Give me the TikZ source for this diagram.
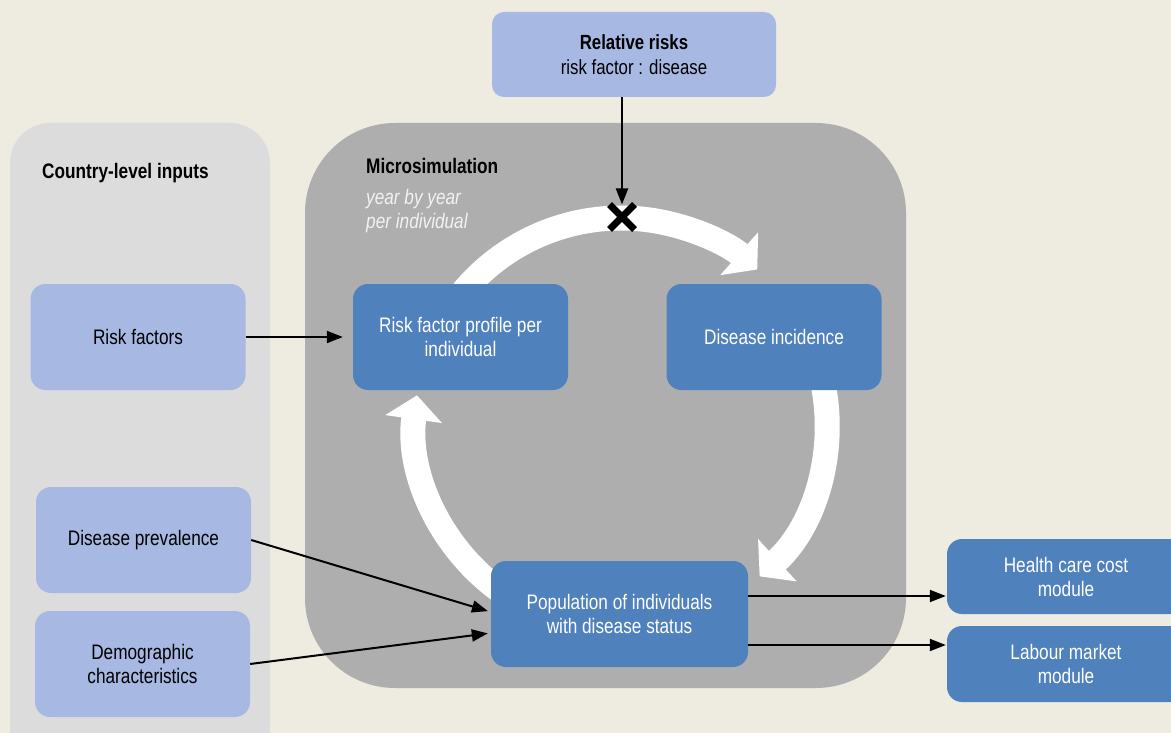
\documentclass[tikz,border=0pt]{standalone}
\usepackage{fontspec}
\setmainfont{Liberation Sans}[FakeStretch=0.82]
\usetikzlibrary{arrows.meta,shapes.misc}

\definecolor{bgbeige}{HTML}{EEEBE0}
\definecolor{ctrygrey}{HTML}{DCDCDC}
\definecolor{simgrey}{HTML}{AEAEAE}
\definecolor{lightblue}{HTML}{A7B8E2}
\definecolor{darkblue}{HTML}{4F81BD}

\begin{document}
\begin{tikzpicture}[x=1pt,y=-1pt,
    inbox/.style={fill=lightblue, rounded corners=15pt, align=center,
      minimum width=215pt, minimum height=106pt,
      font=\fontsize{21}{24}\selectfont},
    simbox/.style={fill=darkblue, text=white, rounded corners=15pt, align=center,
      minimum width=215pt, minimum height=106pt,
      font=\fontsize{21}{24}\selectfont},
    blkarrow/.style={-{Triangle[length=16pt,width=12pt]}, line width=2pt},
    cyclearrow/.style={white, line width=25pt, -{Triangle[length=24pt,width=56pt]}},
    head/.style={font=\fontsize{21}{24}\bfseries\selectfont, anchor=west, inner sep=0pt}]

    % background and panels
    \fill[bgbeige] (0,0) rectangle (1171,733);
    \clip (0,0) rectangle (1171,733);
    \fill[ctrygrey, rounded corners=40pt] (10,123) rectangle (270,770);
    \fill[simgrey, rounded corners=90pt] (305,123) rectangle (906,688);

    \node (Cty) at (42,173) [head] {Country-level inputs};
    \node (Mic) at (366,166) [head] {Microsimulation};
    \node (Yby) at (366,211) [anchor=west, align=left, inner sep=0pt, text=white!95!black,
      font=\fontsize{21}{24}\itshape\selectfont] {year by year\\per individual};

    % cycle
    \coordinate (cyc) at (621,424);
    \draw[cyclearrow] ([shift={(-140:206)}]cyc) arc[start angle=-140, end angle=-48.6, radius=206];
    \draw[cyclearrow] ([shift={(-15:206)}]cyc) arc[start angle=-15, end angle=47.7, radius=206];
    \draw[cyclearrow] ([shift={(-234:206)}]cyc) arc[start angle=-234, end angle=-172, radius=206];

    \node (Rel) at (634,54.5) [inbox, rounded corners=12pt, minimum width=284pt, minimum height=85pt,
      font=\fontsize{20.5}{25}\selectfont] {\textbf{Relative risks}\\risk factor : disease};
    \node (Rfa) at (138,337) [inbox] {Risk factors};
    \node (Prv) at (143.5,540) [inbox] {Disease prevalence};
    \node (Dem) at (142.5,664) [inbox] {Demographic\\characteristics};

    \node (Pro) at (460.5,337) [simbox] {Risk factor profile per\\individual};
    \node (Inc) at (774,337) [simbox] {Disease incidence};
    \node (Pop) at (619.5,614) [simbox, minimum width=257pt] {Population of individuals\\with disease status};
    \node (Hcc) at (1066,576.5) [simbox, minimum width=238pt, minimum height=75pt] {Health care cost\\module};
    \node (Lab) at (1066,664) [simbox, minimum width=238pt, minimum height=76pt] {Labour market\\module};

    \node (Crs) at (622,217) [draw, cross out, line width=7pt, minimum size=18pt, inner sep=0pt] {};

    \draw[blkarrow] (Crs |- Rel.south) -- (Crs.north);
    \draw[blkarrow, shorten >=10pt] (Rfa) -- (Pro);
    \draw[blkarrow, shorten >=3pt] (Prv.east) -- ([yshift=2pt]Pop.west);
    \draw[blkarrow, shorten >=3pt] (Dem.east) -- ([yshift=-19pt]Pop.west);
    \draw[blkarrow, shorten >=1pt] ([yshift=18pt]Pop.east) -- ([yshift=18pt]Pop.east -| Hcc.west);
    \draw[blkarrow, shorten >=1pt] ([yshift=-31pt]Pop.east) -- ([yshift=-31pt]Pop.east -| Lab.west);
\end{tikzpicture}
\end{document}
